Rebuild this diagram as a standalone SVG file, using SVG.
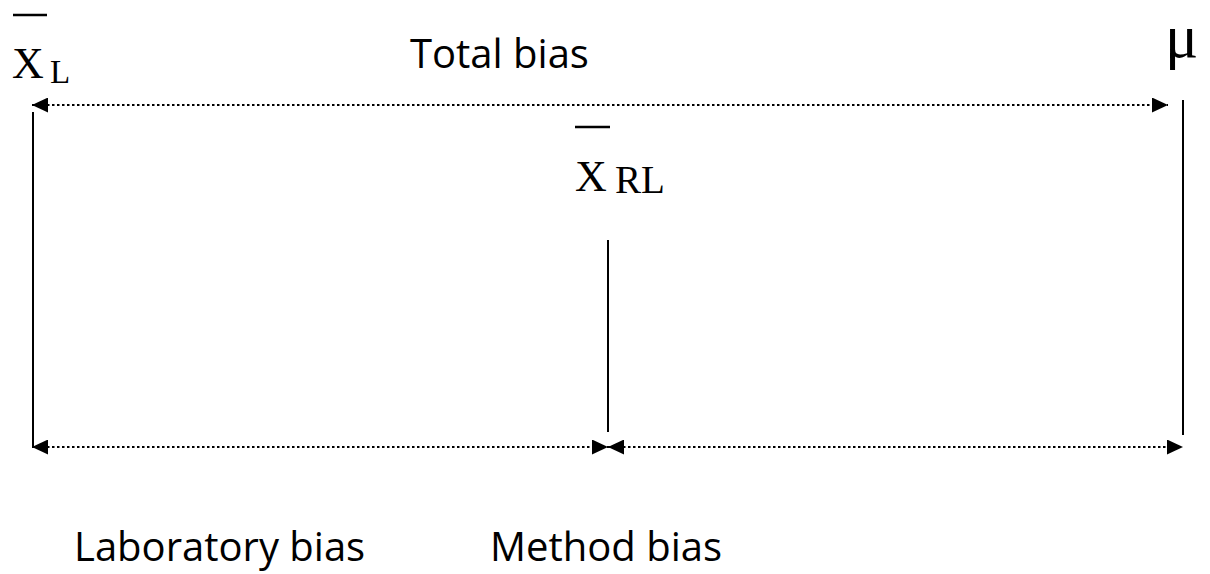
<svg xmlns="http://www.w3.org/2000/svg" width="1210" height="574" viewBox="0 0 1210 574">
<style>
.lbl{font-family:"Open Sans","Liberation Sans",sans-serif;font-size:40px;fill:#000}
.sym{font-family:"Liberation Serif","Times New Roman",serif;fill:#000}
.solid{stroke:#000;stroke-width:2;fill:none}
.dot{stroke:#000;stroke-width:2;stroke-dasharray:2.5 2.5;fill:none}
.bar{stroke:#000;stroke-width:2.5}
</style>
<defs>
<marker id="ah" markerUnits="userSpaceOnUse" markerWidth="16" markerHeight="15" refX="16" refY="7.5" orient="auto-start-reverse">
<path d="M0,0 L16,7.5 L0,15 z" fill="#000"/>
</marker>
</defs>
<rect width="1210" height="574" fill="#fff"/>
<g id="xL">
<line class="bar" x1="13" y1="15" x2="47" y2="15"/>
<text class="sym" x="12" y="78" font-size="44">X</text>
<text class="sym" x="50" y="83" font-size="33">L</text>
</g>
<g id="xRL">
<line class="bar" x1="575" y1="127" x2="610" y2="127"/>
<text class="sym" x="575" y="191" font-size="44">X</text>
<text class="sym" x="615" y="193" font-size="39">RL</text>
</g>
<g id="mu">
<text class="sym" x="1165" y="57" font-size="62">μ</text>
</g>
<g id="total-bias"><text class="lbl" x="410" y="68">Total bias</text></g>
<g id="lab-bias"><text class="lbl" x="74" y="561">Laboratory bias</text></g>
<g id="method-bias"><text class="lbl" x="490" y="561">Method bias</text></g>
<g id="connectors">
<line class="solid" x1="33" y1="112" x2="33" y2="448"/>
<line class="solid" x1="608" y1="240" x2="608" y2="432"/>
<line class="solid" x1="1183" y1="100" x2="1183" y2="435"/>
<line class="dot" x1="32" y1="105" x2="1168" y2="105" marker-start="url(#ah)" marker-end="url(#ah)"/>
<line class="dot" x1="32" y1="447" x2="608" y2="447" marker-start="url(#ah)" marker-end="url(#ah)"/>
<line class="dot" x1="608" y1="447" x2="1183" y2="447" marker-start="url(#ah)" marker-end="url(#ah)"/>
</g>
</svg>
